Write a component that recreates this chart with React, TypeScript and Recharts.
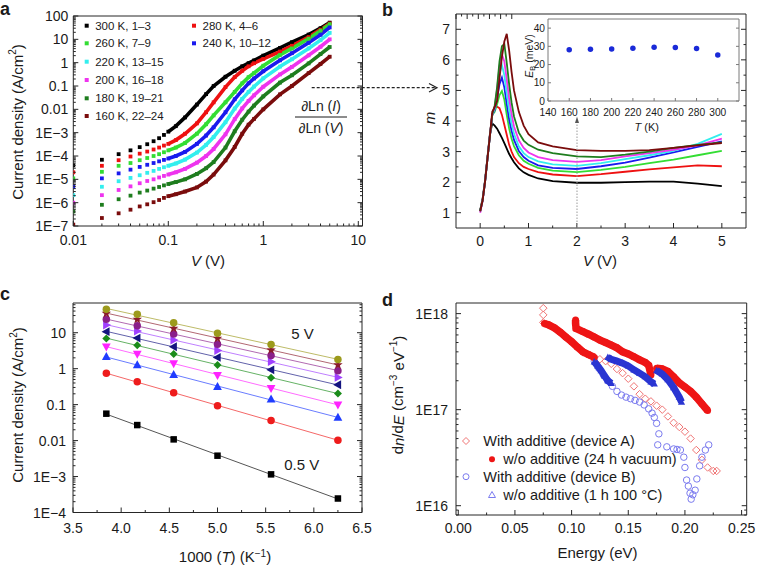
import React from 'react';
import { ScatterChart, Scatter, XAxis, YAxis, LineChart, Line } from 'recharts';

const FONT = "'Liberation Sans', Arial, Helvetica, sans-serif";
const AX = '#262626';
const TXT = '#1a1a1a';

// ---------------- Panel a : J–V at several temperatures ----------------
const V_A = [0.01, 0.02, 0.03, 0.04, 0.05, 0.06, 0.07, 0.08, 0.09, 0.1, 0.12, 0.15, 0.2, 0.25, 0.3, 0.4, 0.5, 0.6, 0.7, 0.8, 1, 1.5, 2, 3, 4, 5];
const J_300 = [4e-5, 6.9e-5, 1.2e-4, 1.75e-4, 2.4e-4, 3.2e-4, 4.3e-4, 5.8e-4, 8e-4, 1.1e-3, 1.9e-3, 4.5e-3, 0.016, 0.045, 0.1, 0.25, 0.45, 0.7, 0.95, 1.25, 2.0, 4.3, 7.5, 16, 30, 52];
const J_280 = [2e-5, 3.8e-5, 6.6e-5, 9.5e-5, 1.26e-4, 1.55e-4, 1.9e-4, 2.3e-4, 2.8e-4, 3.3e-4, 4.8e-4, 9e-4, 2.5e-3, 7.5e-3, 0.02, 0.09, 0.24, 0.45, 0.7, 0.95, 1.45, 3.0, 5.3, 12.5, 26, 48];
const J_260 = [1.1e-5, 2.1e-5, 3.8e-5, 5e-5, 6.6e-5, 8.2e-5, 1e-4, 1.2e-4, 1.45e-4, 1.74e-4, 2.3e-4, 3.6e-4, 9e-4, 2.3e-3, 5.5e-3, 0.02, 0.056, 0.13, 0.24, 0.36, 0.74, 2.15, 4.07, 10.7, 23.5, 44.6];
const J_240 = [4.8e-6, 1.1e-5, 1.8e-5, 2.6e-5, 3.4e-5, 4.2e-5, 5e-5, 5.9e-5, 6.8e-5, 7.8e-5, 1e-4, 1.5e-4, 3.3e-4, 7.5e-4, 1.7e-3, 7.5e-3, 0.027, 0.065, 0.13, 0.21, 0.43, 1.26, 2.55, 7.1, 15.7, 32.4];
const J_220 = [2.1e-6, 4.8e-6, 8.3e-6, 1.15e-5, 1.5e-5, 1.9e-5, 2.3e-5, 2.8e-5, 3.3e-5, 3.8e-5, 4.8e-5, 7e-5, 1.4e-4, 3e-4, 6.5e-4, 2.8e-3, 0.0108, 0.028, 0.056, 0.095, 0.214, 0.68, 1.4, 4.07, 9.2, 19];
const J_200 = [1e-6, 2.1e-6, 3.5e-6, 5e-6, 6.8e-6, 8.5e-6, 1e-5, 1.2e-5, 1.4e-5, 1.6e-5, 2e-5, 2.8e-5, 5.2e-5, 1e-4, 2e-4, 8.5e-4, 3.8e-3, 0.011, 0.023, 0.04, 0.093, 0.314, 0.66, 2.06, 4.8, 10];
const J_180 = [4.2e-7, 8.1e-7, 1.4e-6, 2e-6, 2.7e-6, 3.3e-6, 4e-6, 4.7e-6, 5.5e-6, 6.3e-6, 7.6e-6, 1e-5, 1.7e-5, 3e-5, 5.5e-5, 2.3e-4, 1.15e-3, 3.6e-3, 8e-3, 0.0145, 0.036, 0.14, 0.288, 0.93, 2.34, 4.7];
const J_160 = [1.15e-7, 2.2e-7, 3.5e-7, 5e-7, 6.9e-7, 8.5e-7, 1.05e-6, 1.3e-6, 1.6e-6, 1.9e-6, 2.3e-6, 3e-6, 4.5e-6, 8e-6, 1.6e-5, 6.5e-5, 2.45e-4, 9e-4, 2.2e-3, 3.9e-3, 0.01, 0.044, 0.1, 0.357, 0.88, 1.8];
const A_NAMES = ['300 K, 1–3', '280 K, 4–6', '260 K, 7–9', '240 K, 10–12', '220 K, 13–15', '200 K, 16–18', '180 K, 19–21', '160 K, 22–24'];
const T_COLORS = ['#000000', '#ee1111', '#33dd33', '#1a1aee', '#33eeee', '#ee33ee', '#1e7d1e', '#7a0c0c'];
const A_SERIES = [J_300, J_280, J_260, J_240, J_220, J_200, J_180, J_160];
const A_X_TICKS = [0.01, 0.1, 1, 10];
const A_Y_TICKS = [1e-7, 1e-6, 1e-5, 1e-4, 1e-3, 0.01, 0.1, 1, 10, 100];

// ---------------- Panel b : m = dLn(I)/dLn(V) ----------------
const V_B = [0, 0.05, 0.1, 0.15, 0.2, 0.25, 0.3, 0.35, 0.4, 0.45, 0.5, 0.55, 0.6, 0.65, 0.7, 0.8, 0.9, 1.0, 1.2, 1.5, 2, 2.5, 3, 3.5, 4, 4.5, 5];
const M_300 = [1.08, 1.45, 2.05, 2.8, 3.55, 3.92, 3.85, 3.75, 3.6, 3.45, 3.28, 3.1, 2.92, 2.78, 2.65, 2.45, 2.32, 2.24, 2.12, 2.03, 1.98, 1.98, 2.0, 2.02, 2.02, 1.95, 1.87];
const M_280 = [1.05, 1.42, 2.0, 2.75, 3.5, 4.2, 4.45, 4.47, 4.42, 4.2, 3.88, 3.55, 3.22, 3.0, 2.82, 2.62, 2.5, 2.43, 2.33, 2.25, 2.2, 2.26, 2.34, 2.42, 2.48, 2.55, 2.52];
const M_260 = [1.05, 1.4, 2.0, 2.75, 3.5, 4.2, 4.3, 4.55, 4.85, 4.98, 4.7, 4.2, 3.75, 3.42, 3.18, 2.88, 2.7, 2.6, 2.47, 2.38, 2.33, 2.4, 2.5, 2.62, 2.74, 2.88, 3.02];
const M_240 = [1.05, 1.4, 2.0, 2.75, 3.5, 4.2, 4.35, 4.75, 5.2, 5.42, 5.1, 4.55, 4.05, 3.68, 3.38, 3.02, 2.82, 2.7, 2.55, 2.47, 2.43, 2.52, 2.64, 2.8, 2.97, 3.15, 3.33];
const M_220 = [1.05, 1.4, 2.0, 2.75, 3.5, 4.2, 4.4, 4.95, 5.55, 5.83, 5.5, 4.9, 4.35, 3.92, 3.58, 3.17, 2.95, 2.82, 2.68, 2.58, 2.53, 2.62, 2.75, 2.88, 3.02, 3.25, 3.58];
const M_200 = [1.0, 1.38, 2.0, 2.75, 3.5, 4.2, 4.45, 5.05, 5.8, 6.18, 5.95, 5.35, 4.72, 4.22, 3.82, 3.37, 3.12, 2.97, 2.82, 2.72, 2.66, 2.72, 2.84, 2.95, 3.06, 3.2, 3.42];
const M_180 = [1.05, 1.4, 2.0, 2.75, 3.5, 4.2, 4.5, 5.1, 5.95, 6.45, 6.52, 5.9, 5.2, 4.6, 4.15, 3.62, 3.36, 3.22, 3.06, 2.95, 2.84, 2.82, 2.9, 3.0, 3.12, 3.22, 3.3];
const M_160 = [1.05, 1.4, 2.0, 2.75, 3.5, 4.3, 4.45, 4.65, 5.4, 6.1, 6.6, 6.85, 6.3, 5.6, 5.0, 4.3, 3.85, 3.57, 3.3, 3.17, 3.05, 3.02, 3.02, 3.05, 3.12, 3.2, 3.28];
const B_KEYS = ['k300', 'k280', 'k260', 'k240', 'k220', 'k200', 'k180', 'k160'];
const B_SERIES = [M_300, M_280, M_260, M_240, M_220, M_200, M_180, M_160];
const B_X_TICKS = [0, 1, 2, 3, 4, 5];
const B_X_MINOR = [0.5, 1.5, 2.5, 3.5, 4.5];
const B_Y_TICKS = [1, 2, 3, 4, 5, 6, 7];
const B_Y_MINOR = [1.5, 2.5, 3.5, 4.5, 5.5, 6.5];

// inset
const T_INSET = [160, 180, 200, 220, 240, 260, 280, 300];
const EB_INSET = [28.1, 28.4, 28.6, 29.0, 29.5, 29.4, 28.8, 25.3];
const IN_X_TICKS = [140, 160, 180, 200, 220, 240, 260, 280, 300];
const IN_Y_TICKS = [0, 10, 20, 30, 40];

// ---------------- Panel c : Arrhenius ----------------
const X_C = [3.846, 4.167, 4.545, 5.0, 5.556, 6.25];
const C_05 = [0.056, 0.027, 0.0108, 0.0038, 0.00115, 0.000245];
const C_10 = [0.74, 0.43, 0.214, 0.093, 0.036, 0.0102];
const C_15 = [2.15, 1.26, 0.68, 0.314, 0.14, 0.044];
const C_20 = [4.07, 2.55, 1.4, 0.66, 0.288, 0.1];
const C_25 = [6.95, 4.5, 2.55, 1.26, 0.56, 0.205];
const C_30 = [10.7, 7.1, 4.07, 2.06, 0.93, 0.357];
const C_35 = [16.3, 11.1, 6.25, 3.2, 1.56, 0.57];
const C_40 = [23.5, 15.7, 9.2, 4.8, 2.34, 0.88];
const C_45 = [34.5, 23.5, 13.2, 6.95, 3.3, 1.28];
const C_50 = [44.6, 32.4, 19, 9.6, 4.7, 1.8];
const C_SERIES = [C_05, C_10, C_15, C_20, C_25, C_30, C_35, C_40, C_45, C_50];
const C_COLORS = ['#000000', '#ee1c1c', '#1f3cff', '#ff22ff', '#1a8c1a', '#141480', '#a040ff', '#8a1f8a', '#8b1c2c', '#9c9a1c'];
const C_SHAPES = ['square', 'circle', 'tup', 'tdown', 'diamond', 'tleft', 'tright', 'circle', 'star', 'circle'];
const C_X_TICKS = [3.5, 4.0, 4.5, 5.0, 5.5, 6.0, 6.5];
const C_X_MINOR = [3.75, 4.25, 4.75, 5.25, 5.75, 6.25];
const C_Y_TICKS = [1e-4, 1e-3, 0.01, 0.1, 1, 10];

// ---------------- Panel d : DOS ----------------
const DA_E = [0.075, 0.075, 0.075, 0.08, 0.085, 0.09, 0.095, 0.1, 0.105, 0.11, 0.115, 0.12, 0.125, 0.13, 0.135, 0.14, 0.145, 0.15, 0.155, 0.16, 0.165, 0.17, 0.175, 0.18, 0.185, 0.19, 0.195, 0.2, 0.205, 0.21, 0.215, 0.22, 0.225, 0.228];
const DA_N = [1.14e18, 9.7e17, 8.1e17, 7.6e17, 7.1e17, 6.4e17, 5.7e17, 5.1e17, 4.5e17, 3.95e17, 3.7e17, 3.55e17, 3.35e17, 3.2e17, 3.0e17, 2.65e17, 2.4e17, 2.1e17, 1.75e17, 1.45e17, 1.3e17, 1.22e17, 1.1e17, 1.0e17, 8.5e16, 7.3e16, 6.6e16, 5.9e16, 5.0e16, 3.8e16, 3.0e16, 2.5e16, 2.3e16, 2.3e16];
const DR1_E = [0.076, 0.08, 0.085, 0.09, 0.095, 0.1, 0.105, 0.11, 0.115, 0.12];
const DR1_N = [7.9e17, 7.6e17, 7.1e17, 6.4e17, 5.7e17, 5.1e17, 4.5e17, 4.0e17, 3.75e17, 3.5e17];
const DR2_E = [0.1035, 0.1035, 0.104, 0.11, 0.115, 0.12, 0.125, 0.13, 0.135, 0.14, 0.145, 0.15, 0.155, 0.16, 0.165, 0.168, 0.17];
const DR2_N = [8.6e17, 7.9e17, 7.0e17, 6.5e17, 6.1e17, 5.7e17, 5.3e17, 5.0e17, 4.7e17, 4.4e17, 4.0e17, 3.8e17, 3.55e17, 3.3e17, 3.1e17, 2.9e17, 2.3e17];
const DR3_E = [0.175, 0.18, 0.185, 0.19, 0.195, 0.2, 0.205, 0.21, 0.215, 0.22];
const DR3_N = [2.7e17, 2.65e17, 2.5e17, 2.2e17, 1.9e17, 1.72e17, 1.55e17, 1.35e17, 1.15e17, 9.8e16];
const DB_E = [0.12, 0.124, 0.128, 0.132, 0.136, 0.14, 0.144, 0.148, 0.152, 0.156, 0.16, 0.164, 0.168, 0.171, 0.173, 0.175, 0.177, 0.176, 0.184, 0.19, 0.193, 0.196, 0.199, 0.2, 0.2015, 0.203, 0.2045, 0.2055, 0.207, 0.209, 0.2105, 0.213, 0.215, 0.218, 0.221];
const DB_N = [3.2e17, 2.7e17, 2.3e17, 2.0e17, 1.75e17, 1.55e17, 1.42e17, 1.35e17, 1.3e17, 1.25e17, 1.2e17, 1.12e17, 1.02e17, 9.2e16, 8.3e16, 7.2e16, 5.6e16, 4.3e16, 4.1e16, 3.9e16, 3.85e16, 3.8e16, 3.2e16, 2.5e16, 1.85e16, 1.6e16, 1.35e16, 1.17e16, 1.3e16, 1.45e16, 1.9e16, 2.6e16, 3.2e16, 3.8e16, 4.3e16];
const DT1_E = [0.12, 0.123, 0.126, 0.129, 0.132, 0.135];
const DT1_N = [3.15e17, 2.85e17, 2.55e17, 2.25e17, 2.0e17, 1.88e17];
const DT2_E = [0.132, 0.135, 0.14, 0.145, 0.15, 0.155, 0.16, 0.165, 0.17, 0.173];
const DT2_N = [3.5e17, 3.35e17, 3.2e17, 3.05e17, 2.85e17, 2.6e17, 2.4e17, 2.2e17, 1.95e17, 1.85e17];
const DT3_E = [0.175, 0.18, 0.185, 0.19, 0.195, 0.197];
const DT3_N = [2.55e17, 2.35e17, 2.05e17, 1.7e17, 1.35e17, 1.2e17];
const D_LEGEND = ['With additive (device A)', 'w/o additive (24 h vacuum)', 'With additive (device B)', 'w/o additive (1 h 100 °C)'];
const D_X_TICKS = [0, 0.05, 0.1, 0.15, 0.2, 0.25];
const D_X_MINOR = [0.025, 0.075, 0.125, 0.175, 0.225];
const D_Y_TICKS = [1e16, 1e17, 1e18];

// ---------------- helpers ----------------
const zip = (xs: number[], ys: number[]) => xs.map((x, i) => ({ x, y: ys[i] }));
const logMinors = (lo: number, hi: number, max: number) => {
  const out: number[] = [];
  for (let d = lo; d < hi * 1.0001; d *= 10) for (let k = 2; k <= 9; k++) { const v = +(d * k).toPrecision(6); if (v <= max) out.push(v); }
  return out;
};
const fmtLog = (v: number) => {
  const e = Math.round(Math.log10(v));
  if (e <= -3) return `1E−${-e}`;
  if (e === -2) return '0.01';
  if (e === -1) return '0.1';
  return String(Math.round(Math.pow(10, e)));
};
const fmtE = (v: number) => `1E${Math.round(Math.log10(v))}`;

type Side = 'b' | 'l' | 't' | 'r';
interface TickOpt { majors: number[]; fmt?: (v: number) => string; off?: number; fs?: number; len?: number; minLen?: number; color?: string; }
function tickR(side: Side, o: TickOpt) {
  return (p: any) => {
    const v = Number(p.payload?.value);
    const isMaj = o.majors.some((m) => Math.abs(m - v) <= Math.abs(m) * 1e-6 + 1e-12);
    const L = isMaj ? (o.len ?? 5) : (o.minLen ?? 2.5);
    const x = Number(p.x), y = Number(p.y);
    const st = o.color ?? AX;
    const fs = o.fs ?? 14;
    const tp = { fontFamily: FONT, fontSize: fs, fill: TXT };
    let ln: React.ReactNode = null;
    let lb: React.ReactNode = null;
    if (side === 'b') {
      ln = <line x1={x} y1={y} x2={x} y2={y - L} stroke={st} strokeWidth={1} />;
      if (isMaj && o.fmt) lb = <text x={x} y={y + (o.off ?? 18)} textAnchor="middle" {...tp}>{o.fmt(v)}</text>;
    } else if (side === 't') {
      ln = <line x1={x} y1={y} x2={x} y2={y + L} stroke={st} strokeWidth={1} />;
    } else if (side === 'l') {
      ln = <line x1={x} y1={y} x2={x + L} y2={y} stroke={st} strokeWidth={1} />;
      if (isMaj && o.fmt) lb = <text x={x - (o.off ?? 6)} y={y + fs * 0.36} textAnchor="end" {...tp}>{o.fmt(v)}</text>;
    } else {
      ln = <line x1={x} y1={y} x2={x - L} y2={y} stroke={st} strokeWidth={1} />;
    }
    return <g>{ln}{lb}</g>;
  };
}

const axisCommon = { tickLine: false, tickSize: 0, tickMargin: 0, interval: 0 as const, allowDataOverflow: true };

// marker shapes
function marker(kind: string, color: string, s: number, open = false) {
  return (p: any) => {
    const cx = Number(p.cx), cy = Number(p.cy);
    const fill = open ? 'none' : color;
    const stroke = color;
    const sw = open ? 1 : 0;
    switch (kind) {
      case 'square':
        return <rect x={cx - s / 2} y={cy - s / 2} width={s} height={s} fill={fill} stroke={stroke} strokeWidth={sw} />;
      case 'circle':
        return <circle cx={cx} cy={cy} r={s / 2} fill={fill} stroke={stroke} strokeWidth={sw} />;
      case 'diamond':
        return <polygon points={`${cx},${cy - s / 2} ${cx + s / 2},${cy} ${cx},${cy + s / 2} ${cx - s / 2},${cy}`} fill={fill} stroke={stroke} strokeWidth={sw} />;
      case 'tup':
        return <polygon points={`${cx},${cy - s * 0.6} ${cx + s * 0.55},${cy + s * 0.4} ${cx - s * 0.55},${cy + s * 0.4}`} fill={fill} stroke={stroke} strokeWidth={sw} />;
      case 'tdown':
        return <polygon points={`${cx},${cy + s * 0.6} ${cx + s * 0.55},${cy - s * 0.4} ${cx - s * 0.55},${cy - s * 0.4}`} fill={fill} stroke={stroke} strokeWidth={sw} />;
      case 'tleft':
        return <polygon points={`${cx - s * 0.6},${cy} ${cx + s * 0.4},${cy - s * 0.55} ${cx + s * 0.4},${cy + s * 0.55}`} fill={fill} stroke={stroke} strokeWidth={sw} />;
      case 'tright':
        return <polygon points={`${cx + s * 0.6},${cy} ${cx - s * 0.4},${cy - s * 0.55} ${cx - s * 0.4},${cy + s * 0.55}`} fill={fill} stroke={stroke} strokeWidth={sw} />;
      case 'star': {
        const pts: string[] = [];
        for (let i = 0; i < 10; i++) {
          const r = i % 2 === 0 ? s * 0.62 : s * 0.26;
          const a = -Math.PI / 2 + (i * Math.PI) / 5;
          pts.push(`${cx + r * Math.cos(a)},${cy + r * Math.sin(a)}`);
        }
        return <polygon points={pts.join(' ')} fill={fill} stroke={stroke} strokeWidth={sw} />;
      }
      default:
        return <g />;
    }
  };
}
const noShape = () => <g />;

// ---------------- Panels ----------------
function PanelA() {
  const xt = [...A_X_TICKS, ...logMinors(0.01, 1, 10)];
  const yt = [...A_Y_TICKS, ...logMinors(1e-7, 10, 100)];
  const dom: [number, number] = [0.01, 11.07];
  return (
    <div style={{ position: 'absolute', left: 0, top: 0 }}>
      <ScatterChart width={380} height={280} margin={{ top: 6, right: 7.5, bottom: 0, left: 0 }}>
        <XAxis type="number" dataKey="x" scale="log" domain={dom} ticks={xt} height={54} axisLine={{ stroke: AX }} tick={tickR('b', { majors: A_X_TICKS, fmt: fmtLog, off: 19 })} {...axisCommon} />
        <XAxis xAxisId="t" orientation="top" type="number" scale="log" domain={dom} ticks={xt} height={10} axisLine={{ stroke: AX }} tick={tickR('t', { majors: A_X_TICKS })} {...axisCommon} />
        <YAxis type="number" dataKey="y" scale="log" domain={[1e-7, 100]} ticks={yt} width={73.3} axisLine={{ stroke: AX }} tick={tickR('l', { majors: A_Y_TICKS, fmt: fmtLog, off: 5 })} {...axisCommon} />
        <YAxis yAxisId="r" orientation="right" type="number" scale="log" domain={[1e-7, 100]} ticks={yt} width={10} axisLine={{ stroke: AX }} tick={tickR('r', { majors: A_Y_TICKS })} {...axisCommon} />
        {A_SERIES.map((J, i) => (
          <Scatter key={'l' + i} data={zip(V_A, J).slice(9)} shape={noShape} line={{ stroke: T_COLORS[i], strokeWidth: 3.6 }} isAnimationActive={false} />
        ))}
        {A_SERIES.map((J, i) => (
          <Scatter key={'p' + i} data={zip(V_A, J)} shape={marker('square', T_COLORS[i], 3.8)} isAnimationActive={false} />
        ))}
      </ScatterChart>
    </div>
  );
}

function PanelB() {
  const rows = V_B.map((V, i) => {
    const r: any = { V };
    B_KEYS.forEach((k, j) => (r[k] = B_SERIES[j][i]));
    return r;
  });
  const xt = [...B_X_TICKS, ...B_X_MINOR];
  const yt = [...B_Y_TICKS, ...B_Y_MINOR];
  return (
    <div style={{ position: 'absolute', left: 380, top: 0 }}>
      <LineChart width={381} height={280} data={rows} margin={{ top: 4, right: 5, bottom: 0, left: 0 }}>
        <XAxis type="number" dataKey="V" domain={[-0.5, 5.5]} ticks={xt} height={52} axisLine={{ stroke: AX }} tick={tickR('b', { majors: B_X_TICKS, fmt: (v) => String(v), off: 17.5 })} {...axisCommon} />
        <XAxis xAxisId="t" orientation="top" type="number" domain={[-0.5, 5.5]} ticks={xt} height={10} axisLine={{ stroke: AX }} tick={tickR('t', { majors: B_X_TICKS })} {...axisCommon} />
        <YAxis type="number" domain={[0.5, 7.5]} ticks={yt} width={76} axisLine={{ stroke: AX }} tick={tickR('l', { majors: B_Y_TICKS, fmt: (v) => String(v), off: 6 })} {...axisCommon} />
        <YAxis yAxisId="r" orientation="right" type="number" domain={[0.5, 7.5]} ticks={yt} width={10} axisLine={{ stroke: AX }} tick={tickR('r', { majors: B_Y_TICKS })} {...axisCommon} />
        {B_KEYS.map((k, i) => (
          <Line key={k} dataKey={k} stroke={T_COLORS[i]} strokeWidth={1.8} dot={false} type="linear" isAnimationActive={false} />
        ))}
      </LineChart>
    </div>
  );
}

function Inset() {
  const G = '#7a7a7a';
  return (
    <div style={{ position: 'absolute', left: 500, top: 10 }}>
      <ScatterChart width={245} height={115} margin={{ top: 3, right: 0, bottom: 0, left: 0 }}>
        <XAxis type="number" dataKey="x" domain={[140, 320]} ticks={IN_X_TICKS} height={24} axisLine={{ stroke: G }} tick={tickR('b', { majors: IN_X_TICKS, fmt: (v) => String(v), off: 14.5, fs: 10.2, len: 3, color: G })} {...axisCommon} />
        <XAxis xAxisId="t" orientation="top" type="number" domain={[140, 320]} ticks={IN_X_TICKS} height={6} axisLine={{ stroke: G }} tick={tickR('t', { majors: IN_X_TICKS, len: 3, color: G })} {...axisCommon} />
        <YAxis type="number" dataKey="y" domain={[0, 45]} ticks={IN_Y_TICKS} width={48} axisLine={{ stroke: G }} tick={tickR('l', { majors: IN_Y_TICKS, fmt: (v) => String(v), off: 3, fs: 10.2, len: 3, color: G })} {...axisCommon} />
        <YAxis yAxisId="r" orientation="right" type="number" domain={[0, 45]} ticks={IN_Y_TICKS} width={6} axisLine={{ stroke: G }} tick={tickR('r', { majors: IN_Y_TICKS, len: 3, color: G })} {...axisCommon} />
        <Scatter data={zip(T_INSET, EB_INSET)} shape={marker('circle', '#1a2ad8', 5.5)} isAnimationActive={false} />
      </ScatterChart>
    </div>
  );
}

function PanelC() {
  const xt = [...C_X_TICKS, ...C_X_MINOR];
  const yt = [...C_Y_TICKS, ...logMinors(1e-4, 10, 67)];
  const dom: [number, number] = [1e-4, 67];
  return (
    <div style={{ position: 'absolute', left: 0, top: 280 }}>
      <ScatterChart width={380} height={286} margin={{ top: 13, right: 8, bottom: 0, left: 0 }}>
        <XAxis type="number" dataKey="x" domain={[3.5, 6.5]} ticks={xt} height={53.5} axisLine={{ stroke: AX }} tick={tickR('b', { majors: C_X_TICKS, fmt: (v) => v.toFixed(1), off: 20.5 })} {...axisCommon} />
        <XAxis xAxisId="t" orientation="top" type="number" domain={[3.5, 6.5]} ticks={xt} height={10} axisLine={{ stroke: AX }} tick={tickR('t', { majors: C_X_TICKS })} {...axisCommon} />
        <YAxis type="number" dataKey="y" scale="log" domain={dom} ticks={yt} width={73} axisLine={{ stroke: AX }} tick={tickR('l', { majors: C_Y_TICKS, fmt: fmtLog, off: 7 })} {...axisCommon} />
        <YAxis yAxisId="r" orientation="right" type="number" scale="log" domain={dom} ticks={yt} width={10} axisLine={{ stroke: AX }} tick={tickR('r', { majors: C_Y_TICKS })} {...axisCommon} />
        {C_SERIES.map((vals, i) => (
          <Scatter key={i} data={zip(X_C, vals)} lineType="fitting" line={{ stroke: C_COLORS[i], strokeWidth: 0.9, strokeOpacity: 0.75 }} shape={marker(C_SHAPES[i], C_COLORS[i], C_SHAPES[i] === 'square' ? 6.5 : C_SHAPES[i] === 'circle' ? 7.5 : 8)} isAnimationActive={false} />
        ))}
      </ScatterChart>
    </div>
  );
}

function PanelD() {
  const xt = [...D_X_TICKS, ...D_X_MINOR];
  const yt = [...D_Y_TICKS, ...logMinors(1e15, 1e17, 1.29e18).filter((v) => v >= 8e15)];
  const dom: [number, number] = [8e15, 1.29e18];
  const RED = '#ee1515';
  const PINK = '#f07474';
  const LBLUE = '#7b7bef';
  const DBLUE = '#2a35d2';
  return (
    <div style={{ position: 'absolute', left: 380, top: 280 }}>
      <ScatterChart width={381} height={286} margin={{ top: 13, right: 4.3, bottom: 0, left: 0 }}>
        <XAxis type="number" dataKey="x" domain={[-0.002, 0.2545]} ticks={xt} height={51} axisLine={{ stroke: AX }} tick={tickR('b', { majors: D_X_TICKS, fmt: (v) => v.toFixed(2), off: 18 })} {...axisCommon} />
        <XAxis xAxisId="t" orientation="top" type="number" domain={[-0.002, 0.2545]} ticks={xt} height={10} axisLine={{ stroke: AX }} tick={tickR('t', { majors: D_X_TICKS })} {...axisCommon} />
        <YAxis type="number" dataKey="y" scale="log" domain={dom} ticks={yt} width={76} axisLine={{ stroke: AX }} tick={tickR('l', { majors: D_Y_TICKS, fmt: fmtE, off: 8 })} {...axisCommon} />
        <YAxis yAxisId="r" orientation="right" type="number" scale="log" domain={dom} ticks={yt} width={10} axisLine={{ stroke: AX }} tick={tickR('r', { majors: D_Y_TICKS })} {...axisCommon} />
        <Scatter data={zip(DA_E, DA_N)} shape={marker('diamond', PINK, 7.5, true)} isAnimationActive={false} />
        <Scatter data={zip(DB_E, DB_N)} shape={marker('circle', LBLUE, 6.5, true)} isAnimationActive={false} />
        {[zip(DR1_E, DR1_N), zip(DR2_E, DR2_N), zip(DR3_E, DR3_N)].map((d, i) => (
          <Scatter key={'r' + i} data={d} line={{ stroke: RED, strokeWidth: 7.5 }} shape={marker('circle', RED, 7)} isAnimationActive={false} />
        ))}
        {[zip(DT1_E, DT1_N), zip(DT2_E, DT2_N), zip(DT3_E, DT3_N)].map((d, i) => (
          <Scatter key={'t' + i} data={d} line={{ stroke: DBLUE, strokeWidth: 7 }} shape={marker('tup', DBLUE, 6.5)} isAnimationActive={false} />
        ))}
      </ScatterChart>
    </div>
  );
}

function Overlay() {
  const t = { fontFamily: FONT, fill: TXT };
  const legA = [
    { i: 0, x: 86.7, y: 25.7 }, { i: 1, x: 194, y: 25.7 },
    { i: 2, x: 86.7, y: 43.3 }, { i: 3, x: 194, y: 43.3 },
    { i: 4, x: 86.7, y: 61.7 }, { i: 5, x: 86.7, y: 80 },
    { i: 6, x: 86.7, y: 98.3 }, { i: 7, x: 86.7, y: 116 },
  ];
  const legD = [
    { y: 441, mx: 466, tx: 483.3 },
    { y: 459.3, mx: 492, tx: 503.3 },
    { y: 476.7, mx: 466, tx: 483.3 },
    { y: 495, mx: 492, tx: 503.3 },
  ];
  return (
    <svg width={761} height={566} style={{ position: 'absolute', left: 0, top: 0, pointerEvents: 'none' }}>
      {/* panel letters */}
      <text x={0} y={15} fontSize={18} fontWeight="bold" {...t}>a</text>
      <text x={382} y={15.5} fontSize={18} fontWeight="bold" {...t}>b</text>
      <text x={0} y={299.5} fontSize={18} fontWeight="bold" {...t}>c</text>
      <text x={382} y={306} fontSize={18} fontWeight="bold" {...t}>d</text>

      {/* panel a labels */}
      <text transform="rotate(-90 17 122)" x={17} y={122} textAnchor="middle" dominantBaseline="central" fontSize={15} {...t}>
        Current density (A/cm<tspan dy={-5} fontSize={10}>2</tspan><tspan dy={5}>)</tspan>
      </text>
      <text x={208} y={266} textAnchor="middle" fontSize={15} {...t}><tspan fontStyle="italic">V</tspan> (V)</text>
      {legA.map((l) => (
        <g key={l.i}>
          <rect x={l.x - 2} y={l.y - 2} width={4} height={4} fill={T_COLORS[l.i]} />
          <text x={l.x + 8.5} y={l.y + 4} fontSize={11.5} {...t}>{A_NAMES[l.i]}</text>
        </g>
      ))}
      <text x={321} y={110.5} textAnchor="middle" fontSize={14} {...t}>∂Ln (<tspan fontStyle="italic">I</tspan>)</text>
      <line x1={295} y1={117} x2={347} y2={117} stroke={TXT} strokeWidth={1} />
      <text x={321} y={132.5} textAnchor="middle" fontSize={14} {...t}>∂Ln (<tspan fontStyle="italic">V</tspan>)</text>
      <line x1={311.7} y1={87.7} x2={436} y2={87.7} stroke="#222" strokeWidth={1.2} strokeDasharray="3 2" />
      <polyline points="429,83.5 437,87.7 429,92" fill="none" stroke="#222" strokeWidth={1.2} />

      {/* panel b labels */}
      <text transform="rotate(-90 429 118)" x={429} y={118} textAnchor="middle" dominantBaseline="central" fontSize={15} fontStyle="italic" {...t}>m</text>
      <text x={600} y={266} textAnchor="middle" fontSize={15} {...t}><tspan fontStyle="italic">V</tspan> (V)</text>
      <line x1={577} y1={228} x2={577} y2={121} stroke="#9a9a9a" strokeWidth={1} strokeDasharray="1.5 1.5" />
      <polygon points="575,123 577,116.5 579,123" fill="#555" />
      <text transform="rotate(-90 529 56)" x={529} y={56} textAnchor="middle" dominantBaseline="central" fontSize={10.5} {...t}>
        <tspan fontStyle="italic">E</tspan><tspan dy={2.5} fontSize={7.5}>B</tspan><tspan dy={-2.5}> (meV)</tspan>
      </text>
      <text x={646.7} y={131} textAnchor="middle" fontSize={11} {...t}><tspan fontStyle="italic">T</tspan> (K)</text>

      {/* panel c labels */}
      <text transform="rotate(-90 17.5 405)" x={17.5} y={405} textAnchor="middle" dominantBaseline="central" fontSize={15} {...t}>
        Current density (A/cm<tspan dy={-5} fontSize={10}>2</tspan><tspan dy={5}>)</tspan>
      </text>
      <text x={225} y={562} textAnchor="middle" fontSize={15} {...t}>
        1000 (<tspan fontStyle="italic">T</tspan>) (K<tspan dy={-5} fontSize={10}>−1</tspan><tspan dy={5}>)</tspan>
      </text>
      <text x={302.5} y={339} textAnchor="middle" fontSize={15} {...t}>5 V</text>
      <text x={301.7} y={470} textAnchor="middle" fontSize={15} {...t}>0.5 V</text>

      {/* panel d labels */}
      <text transform="rotate(-90 397.5 395)" x={397.5} y={395} textAnchor="middle" dominantBaseline="central" fontSize={15} {...t}>
        d<tspan fontStyle="italic">n</tspan>/d<tspan fontStyle="italic">E</tspan> (cm<tspan dy={-5} fontSize={10}>−3</tspan><tspan dy={5}> eV</tspan><tspan dy={-5} fontSize={10}>−1</tspan><tspan dy={5}>)</tspan>
      </text>
      <text x={597.5} y={558} textAnchor="middle" fontSize={15} {...t}>Energy (eV)</text>
      {legD.map((l, i) => (
        <g key={i}>
          {i === 0 && <polygon points={`${l.mx},${l.y - 3.5} ${l.mx + 3.5},${l.y} ${l.mx},${l.y + 3.5} ${l.mx - 3.5},${l.y}`} fill="none" stroke="#f07474" strokeWidth={1} />}
          {i === 1 && <circle cx={l.mx} cy={l.y} r={3} fill="#ee1515" />}
          {i === 2 && <circle cx={l.mx} cy={l.y} r={3} fill="none" stroke="#7b7bef" strokeWidth={1} />}
          {i === 3 && <polygon points={`${l.mx},${l.y - 3.5} ${l.mx + 3.5},${l.y + 2.5} ${l.mx - 3.5},${l.y + 2.5}`} fill="none" stroke="#7b7bef" strokeWidth={1} />}
          <text x={l.tx} y={l.y + 5} fontSize={14.5} {...t}>{D_LEGEND[i]}</text>
        </g>
      ))}
    </svg>
  );
}

export default function App() {
  return (
    <div style={{ position: 'absolute', left: 0, top: 0, width: 761, height: 566, background: '#fff', overflow: 'hidden' }}>
      <PanelA />
      <PanelB />
      <Inset />
      <PanelC />
      <PanelD />
      <Overlay />
    </div>
  );
}
